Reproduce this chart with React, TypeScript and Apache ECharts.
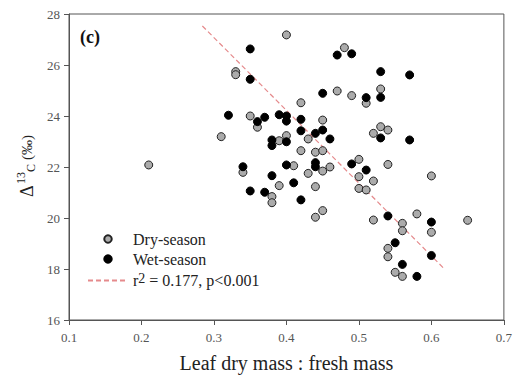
import React, { useEffect, useRef } from "react";
import * as echarts from "echarts";

const dryX = [0.21, 0.31, 0.33, 0.33, 0.34, 0.35, 0.36, 0.38, 0.38, 0.39, 0.39, 0.40, 0.40, 0.41, 0.42, 0.42, 0.43, 0.43, 0.44, 0.44, 0.44, 0.45, 0.45, 0.45, 0.45, 0.46, 0.47, 0.48, 0.49, 0.50, 0.50, 0.50, 0.51, 0.51, 0.52, 0.52, 0.52, 0.53, 0.53, 0.54, 0.54, 0.54, 0.54, 0.55, 0.56, 0.56, 0.56, 0.58, 0.60, 0.60, 0.65];
const dryY = [22.08, 23.19, 25.74, 25.62, 21.79, 24.0, 23.56, 20.84, 20.6, 23.03, 21.27, 27.18, 23.23, 22.05, 24.52, 22.64, 23.1, 21.75, 22.58, 21.23, 20.03, 23.84, 22.64, 21.84, 20.29, 22.0, 24.98, 26.68, 24.8, 22.3, 21.62, 21.16, 24.5, 21.1, 23.32, 21.45, 19.92, 25.06, 23.58, 23.45, 22.1, 18.81, 18.48, 17.87, 19.79, 19.5, 17.71, 20.16, 21.65, 19.44, 19.91];

const wetX = [0.32, 0.34, 0.35, 0.35, 0.35, 0.36, 0.37, 0.37, 0.38, 0.38, 0.38, 0.39, 0.40, 0.40, 0.40, 0.40, 0.41, 0.42, 0.42, 0.42, 0.44, 0.44, 0.44, 0.45, 0.45, 0.46, 0.47, 0.49, 0.49, 0.51, 0.51, 0.53, 0.53, 0.53, 0.54, 0.55, 0.56, 0.57, 0.57, 0.58, 0.60, 0.60];
const wetY = [24.03, 22.01, 26.63, 25.44, 21.06, 23.78, 23.95, 21.01, 23.06, 22.84, 21.66, 24.05, 24.0, 23.8, 22.99, 22.08, 21.38, 23.87, 23.42, 20.71, 23.32, 22.17, 22.01, 24.89, 23.45, 23.1, 26.39, 26.44, 22.12, 24.72, 21.88, 25.74, 24.73, 23.14, 20.08, 19.03, 18.18, 25.61, 23.06, 17.71, 19.84, 18.53];

const fitX = [0.284, 0.617];
const fitY = [27.53, 18.03];

const xTicks = { min: 0.1, max: 0.7, step: 0.1 };
const yTicks = { min: 16, max: 28, step: 2 };

const SERIF = "Liberation Serif";

export default function App() {
  const ref = useRef<HTMLDivElement>(null);
  useEffect(() => {
    if (!ref.current) return;
    const chart = echarts.init(ref.current, undefined, { renderer: "svg" });
    const zip = (xs: number[], ys: number[]) => xs.map((x, i) => [x, ys[i]]);
    chart.setOption({
      animation: false,
      backgroundColor: "#ffffff",
      textStyle: { fontFamily: SERIF },
      grid: { left: 69, right: 10, top: 14, bottom: 59, show: true, borderColor: "#555", borderWidth: 1 },
      xAxis: {
        type: "value",
        min: xTicks.min,
        max: xTicks.max,
        interval: xTicks.step,
        splitLine: { show: false },
        axisLine: { lineStyle: { color: "#555" } },
        axisTick: { length: 5, lineStyle: { color: "#555" } },
        axisLabel: { formatter: (v: number) => v.toFixed(1), fontSize: 13, color: "#555", fontFamily: SERIF, margin: 11 },
        name: "Leaf dry mass : fresh mass",
        nameLocation: "middle",
        nameGap: 33,
        nameTextStyle: { fontSize: 20, color: "#222", fontFamily: SERIF },
      },
      yAxis: {
        type: "value",
        min: yTicks.min,
        max: yTicks.max,
        interval: yTicks.step,
        splitLine: { show: false },
        axisLine: { lineStyle: { color: "#555" } },
        axisTick: { length: 5, lineStyle: { color: "#555" } },
        axisLabel: { fontSize: 13, color: "#555", fontFamily: SERIF, margin: 9 },
      },
      legend: {
        orient: "vertical",
        left: 82,
        top: 226,
        itemWidth: 40,
        itemHeight: 7.5,
        itemGap: 4,
        data: [
          { name: "Dry-season" },
          { name: "Wet-season" },
          { name: "fit", itemStyle: { opacity: 0 } },
        ],
        formatter: (name: string) => (name === "fit" ? "{a|r}{b|2}{a| = 0.177, p<0.001}" : name),
        textStyle: {
          fontSize: 16,
          color: "#222",
          fontFamily: SERIF,
          rich: {
            a: { fontSize: 16, color: "#222", fontFamily: SERIF },
            b: { fontSize: 14, color: "#222", fontFamily: SERIF, verticalAlign: "top", padding: [0, 0, 5, 0] },
          },
        },
      },
      graphic: [
        {
          type: "text",
          left: 80,
          top: 28,
          style: { text: "(c)", font: `bold 18px ${SERIF}`, fill: "#111" },
        },
        {
          type: "group",
          x: 27,
          y: 163,
          rotation: Math.PI / 2,
          children: [
            { type: "text", x: -34, y: 0, style: { text: "Δ", font: `18px ${SERIF}`, fill: "#222", verticalAlign: "middle" } },
            { type: "text", x: -21, y: -6, style: { text: "13", font: `12px ${SERIF}`, fill: "#222", verticalAlign: "middle" } },
            { type: "text", x: -9, y: 4, style: { text: "C", font: `12px ${SERIF}`, fill: "#222", verticalAlign: "middle" } },
            { type: "text", x: 3, y: 0, style: { text: "(‰)", font: `15px ${SERIF}`, fill: "#222", verticalAlign: "middle" } },
          ],
        },
      ],
      series: [
        {
          name: "fit",
          type: "line",
          data: zip(fitX, fitY),
          symbol: "none",
          lineStyle: { color: "#e58a8c", width: 1.2, type: [5, 3] },
          itemStyle: { color: "#e58a8c" },
          z: 1,
        },
        {
          name: "Dry-season",
          type: "scatter",
          data: zip(dryX, dryY),
          symbol: "circle",
          symbolSize: 8,
          itemStyle: { color: "#ababab", borderColor: "#222", borderWidth: 1, opacity: 1 },
          z: 2,
        },
        {
          name: "Wet-season",
          type: "scatter",
          data: zip(wetX, wetY),
          symbol: "circle",
          symbolSize: 8,
          itemStyle: { color: "#000", borderColor: "#000", borderWidth: 1, opacity: 1 },
          z: 3,
        },
      ],
    });
    return () => chart.dispose();
  }, []);
  return <div ref={ref} style={{ position: "fixed", left: 0, top: 0, width: 515, height: 379 }} />;
}
